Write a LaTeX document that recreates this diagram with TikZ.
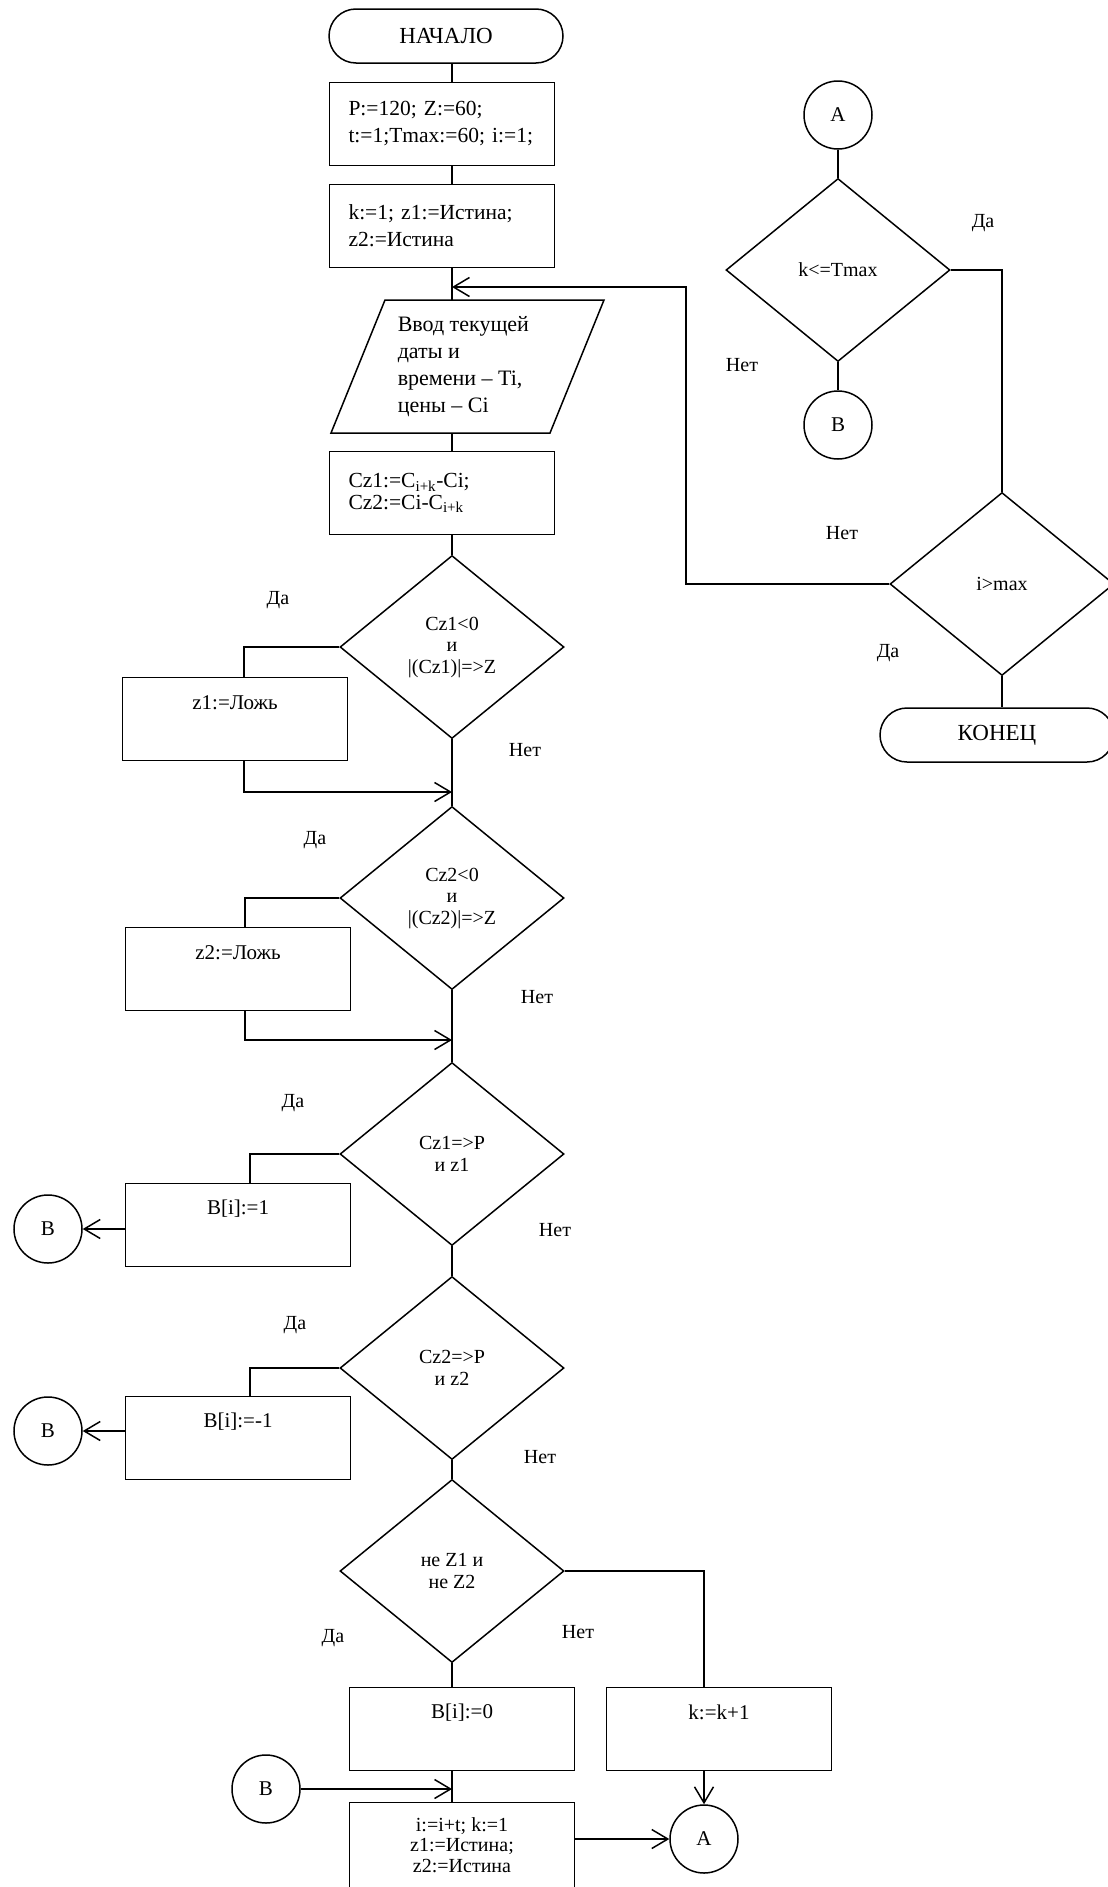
\documentclass[tikz,border=0pt]{standalone}
\usepackage{fontspec}
\setmainfont{Liberation Serif}
\usetikzlibrary{shapes.geometric,arrows.meta,positioning}
\tikzset{
  >={Straight Barb[length=16pt,width=19pt]},
  term/.style={draw,rounded corners=27pt,minimum width=234pt,minimum height=54pt,font=\fontsize{23}{27}\selectfont},
  proc/.style={draw,minimum width=225pt,minimum height=83pt},
  leftbox/.style={proc,text width=187pt,inner xsep=19pt,align=left,font=\fontsize{21.5}{27}\selectfont},
  dec/.style={draw,diamond,minimum width=224pt,minimum height=183pt,inner sep=1pt,align=center,font=\fontsize{20}{21.5}\selectfont},
  conn/.style={draw,circle,minimum size=68pt,inner sep=0pt,font=\fontsize{21}{25}\selectfont},
  lab/.style={font=\fontsize{20}{24}\selectfont},
  txt/.style={inner sep=0pt,align=center,font=\fontsize{21}{21}\selectfont},
}
\begin{document}
\begin{tikzpicture}[x=1pt,y=-1pt,line width=1.5pt]
\useasboundingbox (0,0) rectangle (1108,1887);
\coordinate (ax) at (452,0);
\node[term] (start) at (446,36) {НАЧАЛО};
\node[leftbox] (init) at (442,124) {P:=120; Z:=60;\\t:=1;Tmax:=60; i:=1;};
\node[leftbox] (reset) at (442,226) {k:=1; z1:=Истина;\\z2:=Истина};
\draw (385,300) -- (604,300) -- (550,433) -- (331,433) -- cycle;
\coordinate (pin) at (452,300);
\coordinate (pout) at (452,433);
\node[anchor=west,inner sep=0pt,align=left,font=\fontsize{22}{27}\selectfont] (input) at (397,367) {Ввод текущей\\даты и\\времени – Ti,\\цены – Ci};
\node[leftbox,font=\fontsize{21.5}{21.5}\selectfont] (diff) at (442,493) {Cz1:=C\textsubscript{i+k}-Ci;\\Cz2:=Ci-C\textsubscript{i+k}};

\node[dec] (c1) at (452,647) {Cz1<0\\и\\|(Cz1)|=>Z};
\node[dec] (c2) at (452,898) {Cz2<0\\и\\|(Cz2)|=>Z};
\node[dec] (c3) at (452,1154) {Cz1=>P\\и z1};
\node[dec] (c4) at (452,1368) {Cz2=>P\\и z2};
\node[dec] (c5) at (452,1571) {не Z1 и\\не Z2};

\node[proc] (f1) at (235,719) {};
\node[txt] (f1t) at ([yshift=-26pt]f1.north) {z1:=Ложь};
\node[proc] (f2) at (238,969) {};
\node[txt] (f2t) at ([yshift=-26pt]f2.north) {z2:=Ложь};
\node[proc] (b1) at (238,1225) {};
\node[txt] (b1t) at ([yshift=-26pt]b1.north) {B[i]:=1};
\node[proc] (b2) at (238,1438) {};
\node[txt] (b2t) at ([yshift=-26pt]b2.north) {B[i]:=-1};
\node[proc] (b0) at (462,1729) {};
\node[txt] (b0t) at ([yshift=-26pt]b0.north) {B[i]:=0};
\node[proc] (inc) at (719,1729) {};
\node[txt] (inct) at ([yshift=-26pt]inc.north) {k:=k+1};
\node[proc,minimum height=85pt,align=center,font=\fontsize{20}{20.5}\selectfont] (upd) at (462,1845) {i:=i+t; k:=1\\z1:=Истина;\\z2:=Истина};

\node[conn] (cb1) at (48,1229) {B};
\node[conn] (cb2) at (48,1431) {B};
\node[conn] (cb3) at (266,1789) {B};
\node[conn] (ca2) at (704,1839) {A};
\node[conn] (ca1) at (838,115) {A};
\node[conn] (cb0) at (838,425) {B};
\node[dec] (kt) at (838,270) {k<=Tmax};
\node[dec] (mx) at (1002,584) {i>max};
\node[term] (stop) at (997,735) {КОНЕЦ};

\node[lab] (y1) at (278,600) {Да};
\node[lab] (n1) at (525,750) {Нет};
\node[lab] (y2) at (315,840) {Да};
\node[lab] (n2) at (537,997) {Нет};
\node[lab] (y3) at (293,1103) {Да};
\node[lab] (n3) at (555,1230) {Нет};
\node[lab] (y4) at (295,1325) {Да};
\node[lab] (n4) at (540,1457) {Нет};
\node[lab] (y5) at (333,1638) {Да};
\node[lab] (n5) at (578,1632) {Нет};
\node[lab] (y6) at (983,223) {Да};
\node[lab] (n6) at (742,365) {Нет};
\node[lab] (n7) at (842,533) {Нет};
\node[lab] (y7) at (888,653) {Да};

\draw (start.south -| ax) -- (init.north -| ax);
\draw (init.south -| ax) -- (reset.north -| ax);
\draw (reset.south -| ax) -- (pin);
\draw (pout) -- (diff.north -| ax);
\draw (diff.south -| ax) -- (c1.north);
\draw (c1.south) -- (c2.north);
\draw (c2.south) -- (c3.north);
\draw (c3.south) -- (c4.north);
\draw (c4.south) -- (c5.north);
\draw (c5.south) -- (b0.north -| ax);
\draw (b0.south -| ax) -- (upd.north -| ax);

\coordinate (m1) at (452,792);
\coordinate (m2) at (452,1040);
\draw (c1.west) -| ([xshift=9pt]f1.north);
\draw[->] ([xshift=9pt]f1.south) |- (m1);
\draw (c2.west) -| ([xshift=7pt]f2.north);
\draw[->] ([xshift=7pt]f2.south) |- (m2);
\draw (c3.west) -| ([xshift=12pt]b1.north);
\draw[->] (b1.west |- cb1) -- (cb1.east);
\draw (c4.west) -| ([xshift=12pt]b2.north);
\draw[->] (b2.west |- cb2) -- (cb2.east);
\draw (c5.east) -| ([xshift=-15pt]inc.north);
\draw[->] ([xshift=-15pt]inc.south) -- (ca2.north);
\draw[->] (cb3.east) -- (cb3 -| ax);
\draw[->] (upd.east |- ca2) -- (ca2.west);

\draw (ca1) -- (kt);
\draw (kt) -- (cb0);
\draw (kt.east) -| (mx.north);
\draw (mx.south) -- (mx.south |- stop.north);
\coordinate (back) at (686,287);
\draw[->] (mx.west) -| (back) -- (back -| ax);
\end{tikzpicture}
\end{document}
